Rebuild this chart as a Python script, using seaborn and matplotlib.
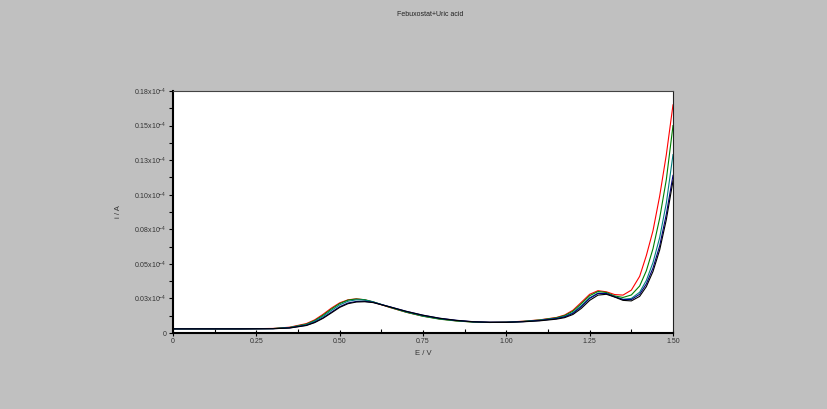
import matplotlib
matplotlib.use("Agg")
import matplotlib.pyplot as plt
import seaborn as sns
import pandas as pd
from matplotlib.ticker import FixedLocator, MultipleLocator

# ---- data (i in units of 1e-4 A) ----
potential = [0.0, 0.1, 0.2, 0.3, 0.35, 0.4, 0.425, 0.45, 0.475, 0.5, 0.525, 0.55,
             0.575, 0.6, 0.65, 0.7, 0.75, 0.8, 0.85, 0.9, 0.95, 1.0, 1.05, 1.1,
             1.15, 1.175, 1.2, 1.225, 1.25, 1.275, 1.3, 1.325, 1.35, 1.375, 1.4,
             1.42, 1.44, 1.46, 1.48, 1.5]

current_red = [0.0030, 0.0030, 0.0030, 0.0033, 0.0042, 0.0068, 0.0095, 0.0135, 0.0180,
               0.0218, 0.0240, 0.0247, 0.0240, 0.0224, 0.0185, 0.0150, 0.0122, 0.0102,
               0.0088, 0.0080, 0.0077, 0.0079, 0.0085, 0.0095, 0.0112, 0.0130, 0.0165,
               0.0222, 0.0280, 0.0306, 0.0298, 0.0278, 0.0274, 0.0310, 0.0410, 0.0560,
               0.0740, 0.0990, 0.1290, 0.1650]
current_green = [0.0030, 0.0030, 0.0030, 0.0032, 0.0040, 0.0064, 0.0090, 0.0128, 0.0173,
                 0.0213, 0.0238, 0.0246, 0.0241, 0.0226, 0.0186, 0.0150, 0.0121, 0.0100,
                 0.0087, 0.0079, 0.0076, 0.0078, 0.0084, 0.0094, 0.0110, 0.0126, 0.0158,
                 0.0212, 0.0270, 0.0300, 0.0293, 0.0268, 0.0257, 0.0275, 0.0340, 0.0450,
                 0.0610, 0.0830, 0.1110, 0.1500]
current_teal = [0.0030, 0.0030, 0.0030, 0.0032, 0.0039, 0.0060, 0.0085, 0.0120, 0.0163,
                0.0203, 0.0230, 0.0240, 0.0238, 0.0225, 0.0188, 0.0153, 0.0124, 0.0103,
                0.0089, 0.0080, 0.0077, 0.0078, 0.0083, 0.0092, 0.0106, 0.0120, 0.0148,
                0.0198, 0.0255, 0.0288, 0.0286, 0.0262, 0.0244, 0.0250, 0.0295, 0.0380,
                0.0510, 0.0690, 0.0940, 0.1290]
current_blue = [0.0030, 0.0030, 0.0030, 0.0031, 0.0037, 0.0056, 0.0078, 0.0110, 0.0150,
                0.0190, 0.0217, 0.0228, 0.0229, 0.0222, 0.0190, 0.0157, 0.0129, 0.0107,
                0.0092, 0.0082, 0.0078, 0.0078, 0.0082, 0.0090, 0.0104, 0.0116, 0.0142,
                0.0190, 0.0250, 0.0286, 0.0285, 0.0262, 0.0242, 0.0242, 0.0280, 0.0355,
                0.0470, 0.0630, 0.0860, 0.1140]
current_black = [0.0030, 0.0030, 0.0030, 0.0031, 0.0036, 0.0054, 0.0075, 0.0106, 0.0145,
                 0.0185, 0.0212, 0.0224, 0.0226, 0.0220, 0.0189, 0.0156, 0.0128, 0.0106,
                 0.0091, 0.0081, 0.0077, 0.0077, 0.0081, 0.0088, 0.0100, 0.0111, 0.0134,
                 0.0178, 0.0236, 0.0274, 0.0280, 0.0260, 0.0236, 0.0232, 0.0265, 0.0335,
                 0.0445, 0.0600, 0.0820, 0.1100]

series_names = ["s1", "s2", "s3", "s4", "s5"]
series_colors = ["#ff0000", "#008000", "#008080", "#000080", "#000000"]

x_ticks = [0, 0.25, 0.5, 0.75, 1.0, 1.25, 1.5]
x_tick_labels = ["0", "0.25", "0.50", "0.75", "1.00", "1.25", "1.50"]
y_ticks = [0, 0.025, 0.05, 0.075, 0.1, 0.125, 0.15, 0.175]
y_tick_labels = ["0", "0.03x10$^{-4}$", "0.05x10$^{-4}$", "0.08x10$^{-4}$",
                 "0.10x10$^{-4}$", "0.13x10$^{-4}$", "0.15x10$^{-4}$", "0.18x10$^{-4}$"]

title_text = "Febuxostat+Uric acid"
x_label = "E / V"
y_label = "i / A"

# ---- build long table ----
all_curves = [current_red, current_green, current_teal, current_blue, current_black]
frames = []
for name, vals in zip(series_names, all_curves):
    frames.append(pd.DataFrame({"E": potential, "i": vals, "series": name}))
df = pd.concat(frames, ignore_index=True)

plt.rcParams["font.family"] = ["Liberation Sans", "DejaVu Sans"]
plt.rcParams["mathtext.fontset"] = "custom"
plt.rcParams["mathtext.rm"] = "Liberation Sans"
plt.rcParams["mathtext.it"] = "Liberation Sans"
plt.rcParams["mathtext.default"] = "regular"

fig = plt.figure(figsize=(8.27, 4.09), dpi=100)
fig.patch.set_facecolor("#c0c0c0")
ax = fig.add_axes([173 / 827, 76 / 409, 500 / 827, 242 / 409])
ax.set_facecolor("white")

sns.lineplot(data=df, x="E", y="i", hue="series", hue_order=series_names,
             palette=series_colors, linewidth=0.8, legend=False, ax=ax,
             sort=False, estimator=None)

ax.set_xlim(0, 1.5)
ax.set_ylim(0, 0.175)

ax.xaxis.set_major_locator(FixedLocator(x_ticks))
ax.set_xticklabels(x_tick_labels)
ax.xaxis.set_minor_locator(MultipleLocator(0.125))
ax.yaxis.set_major_locator(FixedLocator(y_ticks))
ax.set_yticklabels(y_tick_labels)
ax.yaxis.set_minor_locator(MultipleLocator(0.0125))

ax.tick_params(axis="x", which="major", direction="inout", length=5, width=0.8,
               labelsize=5, pad=1, colors="black", labelcolor="#333333")
ax.tick_params(axis="x", which="minor", direction="in", length=3, width=0.8)
ax.tick_params(axis="y", which="major", direction="out", length=3, width=0.8,
               labelsize=5, pad=1.5, labelcolor="#333333")
ax.tick_params(axis="y", which="minor", direction="out", length=3, width=0.8)

for side in ["left", "bottom"]:
    ax.spines[side].set_linewidth(1.5)
    ax.spines[side].set_color("black")
ax.spines["top"].set_linewidth(0.8)
ax.spines["top"].set_color("#444444")
ax.spines["right"].set_linewidth(0.8)
ax.spines["right"].set_color("#222222")

ax.set_xlabel(x_label, fontsize=5.5, color="#333333", labelpad=4)
ax.set_ylabel(y_label, fontsize=5.5, color="#333333", labelpad=9)

fig.text(430 / 827, 1 - 15 / 409, title_text, ha="center", va="center",
         fontsize=5, color="#222222")

fig.savefig("out.png", dpi=100, facecolor=fig.get_facecolor())
